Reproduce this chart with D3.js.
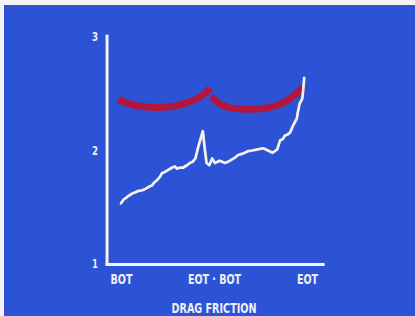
<!DOCTYPE html>
<html><head><meta charset="utf-8">
<script src="https://cdn.jsdelivr.net/npm/d3@7"></script>
<style>html,body{margin:0;padding:0;background:#f3f3f5;}svg{display:block;}</style>
</head><body>
<script>
// ---- data ----
const xTickLabels = ["BOT", "EOT · BOT", "EOT"];
const xTickValues = [0, 1, 2];
const yTickValues = [1, 2, 3];
const xTitle = "DRAG FRICTION";

// white measured line
const frictionX = [0.00,0.03,0.05,0.08,0.10,0.13,0.15,0.19,0.23,0.26,0.28,0.31,0.33,0.36,0.39,0.42,0.44,0.47,0.49,0.52,0.55,0.58,0.60,0.64,0.67,0.71,0.74,0.77,0.80,0.83,0.88,0.90,0.92,0.95,0.98,1.01,1.06,1.12,1.16,1.19,1.23,1.26,1.30,1.33,1.37,1.41,1.47,1.53,1.58,1.63,1.68,1.71,1.74,1.76,1.79,1.82,1.85,1.87,1.89,1.90,1.92,1.95,1.96,1.97];
const frictionY = [1.535,1.57,1.58,1.60,1.61,1.625,1.63,1.645,1.65,1.66,1.67,1.685,1.69,1.72,1.74,1.77,1.80,1.81,1.82,1.835,1.85,1.86,1.84,1.85,1.85,1.87,1.89,1.90,1.93,2.03,2.17,2.02,1.89,1.87,1.93,1.89,1.91,1.89,1.905,1.92,1.94,1.96,1.97,1.98,1.995,2.00,2.01,2.02,2.00,1.98,2.01,2.09,2.10,2.13,2.14,2.16,2.22,2.25,2.28,2.33,2.41,2.46,2.54,2.64];

// red model arcs
const arc1X = [-0.03,0.13,0.45,0.71,0.88,0.96];
const arc1Y = [2.45,2.39,2.37,2.41,2.48,2.55];
const arc2X = [0.97,1.06,1.20,1.39,1.57,1.74,1.89,1.96];
const arc2Y = [2.48,2.40,2.37,2.36,2.37,2.41,2.50,2.56];

// ---- drawing ----
const W = 415, H = 316;
const svg = d3.select("body").append("svg").attr("width", W).attr("height", H);
svg.append("rect").attr("x", 4).attr("y", 5).attr("width", W - 4).attr("height", H - 5).attr("fill", "#2c53d6");

const x = d3.scaleLinear().domain([0, 2]).range([121, 307]);
const y = d3.scaleLinear().domain([1, 3]).range([264, 37]);
const font = "'Liberation Sans Narrow','DejaVu Sans Condensed',sans-serif";
const txt = "#eef0f8";
const labelWidths = [22, 53, 21];

// axes lines
const axisX0 = x(-0.15), axisX1 = x(2.19);
svg.append("line").attr("x1", axisX0).attr("x2", axisX0).attr("y1", y(3.02)).attr("y2", y(0.99))
  .attr("stroke", "#f4f4f8").attr("stroke-width", 3);
svg.append("line").attr("x1", axisX0 - 1.5).attr("x2", axisX1).attr("y1", y(0.995)).attr("y2", y(0.995))
  .attr("stroke", "#f4f4f8").attr("stroke-width", 3);

// y axis tick labels
const yAxis = d3.axisLeft(y).tickValues(yTickValues).tickSize(0).tickPadding(9).tickFormat(d3.format("d"));
const gy = svg.append("g").attr("transform", `translate(${axisX0},0)`).call(yAxis);
gy.select(".domain").remove();
gy.selectAll("text").attr("fill", txt).attr("font-family", font).attr("font-weight", "bold").attr("font-size", 11.5)
  .attr("textLength", 6).attr("lengthAdjust", "spacingAndGlyphs");

// x axis tick labels
const xAxis = d3.axisBottom(x).tickValues(xTickValues).tickSize(0).tickPadding(8).tickFormat((d, i) => xTickLabels[i]);
const gx = svg.append("g").attr("transform", `translate(0,${y(1)+2})`).call(xAxis);
gx.select(".domain").remove();
gx.selectAll("text").attr("fill", txt).attr("font-family", font).attr("font-weight", "bold").attr("font-size", 13.5)
  .attr("textLength", (d, i) => labelWidths[i]).attr("lengthAdjust", "spacingAndGlyphs");

svg.append("text").attr("x", x(1)).attr("y", 312.5).attr("text-anchor", "middle")
  .attr("fill", txt).attr("font-family", font).attr("font-weight", "bold").attr("font-size", 14.5)
  .attr("textLength", 85).attr("lengthAdjust", "spacingAndGlyphs")
  .text(xTitle);

// red arcs
const arcLine = d3.line().x(d => x(d[0])).y(d => y(d[1])).curve(d3.curveBasis);
[[arc1X, arc1Y], [arc2X, arc2Y]].forEach(([xs, ys]) => {
  svg.append("path").datum(xs.map((v, i) => [v, ys[i]]))
    .attr("d", arcLine).attr("fill", "none").attr("stroke", "#b3163c")
    .attr("stroke-width", 7).attr("stroke-linecap", "butt");
});

// white line
const wl = d3.line().x(d => x(d[0])).y(d => y(d[1]));
svg.append("path").datum(frictionX.map((v, i) => [v, frictionY[i]]))
  .attr("d", wl).attr("fill", "none").attr("stroke", "#f4f2ea")
  .attr("stroke-width", 2.7).attr("stroke-linejoin", "round").attr("stroke-linecap", "round");
</script>
</body></html>
